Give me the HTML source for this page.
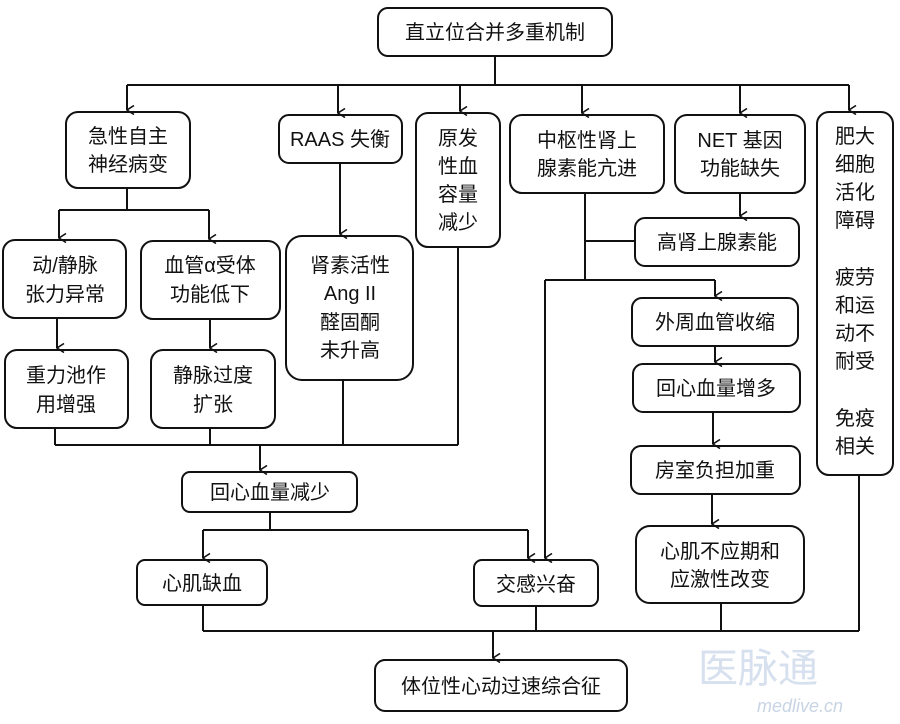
<!DOCTYPE html>
<html><head><meta charset="utf-8"><style>
html,body{margin:0;padding:0;background:#fff;}
svg text{font-family:"Liberation Sans","Noto Sans CJK SC",sans-serif;font-size:20px;fill:#111;text-anchor:middle;}
</style></head><body>
<svg width="900" height="719" viewBox="0 0 900 719" xmlns="http://www.w3.org/2000/svg">
<defs><marker id="a" markerWidth="10" markerHeight="10" refX="5" refY="9" orient="auto" markerUnits="userSpaceOnUse"><path d="M0.5,2 L5,9 L9.5,2" fill="none" stroke="#111" stroke-width="1.6"/></marker></defs>
<g fill="#fff" stroke="#111" stroke-width="2">
<rect x="378" y="8" width="234" height="48" rx="10"/>
<rect x="66" y="112" width="124" height="76" rx="12"/>
<rect x="279" y="115" width="123" height="48" rx="10"/>
<rect x="416" y="113" width="84" height="134" rx="12"/>
<rect x="510" y="115" width="154" height="78" rx="12"/>
<rect x="675" y="115" width="130" height="78" rx="12"/>
<rect x="817" y="112" width="76" height="363" rx="12"/>
<rect x="3" y="240" width="123" height="78" rx="12"/>
<rect x="141" y="241" width="139" height="78" rx="12"/>
<rect x="5" y="350" width="123" height="78" rx="12"/>
<rect x="151" y="350" width="124" height="78" rx="12"/>
<rect x="286" y="236" width="127" height="144" rx="16"/>
<rect x="635" y="218" width="164" height="48" rx="10"/>
<rect x="632" y="298" width="166" height="48" rx="10"/>
<rect x="633" y="364" width="167" height="48" rx="10"/>
<rect x="631" y="446" width="169" height="48" rx="10"/>
<rect x="636" y="526" width="168" height="77" rx="14"/>
<rect x="182" y="472" width="175" height="40" rx="8"/>
<rect x="137" y="560" width="130" height="45" rx="8"/>
<rect x="474" y="560" width="124" height="46" rx="8"/>
<rect x="375" y="660" width="252" height="51" rx="10"/>
</g>
<g fill="none" stroke="#111" stroke-width="2">
<path d="M495 56V85M127 85H849"/>
<path d="M127 85V110" marker-end="url(#a)"/>
<path d="M338 85V113" marker-end="url(#a)"/>
<path d="M460 85V111" marker-end="url(#a)"/>
<path d="M582 85V113" marker-end="url(#a)"/>
<path d="M740 85V113" marker-end="url(#a)"/>
<path d="M849 85V110" marker-end="url(#a)"/>
<path d="M127 188V210M59 210H209"/>
<path d="M59 210V238" marker-end="url(#a)"/>
<path d="M209 210V239" marker-end="url(#a)"/>
<path d="M57 318V348" marker-end="url(#a)"/>
<path d="M210 319V348" marker-end="url(#a)"/>
<path d="M340 163V234" marker-end="url(#a)"/>
<path d="M740 193V216" marker-end="url(#a)"/>
<path d="M585 193V280M585 241H635M545 280H715"/>
<path d="M715 280V296" marker-end="url(#a)"/>
<path d="M545 280V558" marker-end="url(#a)"/>
<path d="M715 346V362" marker-end="url(#a)"/>
<path d="M713 412V444" marker-end="url(#a)"/>
<path d="M712 494V524" marker-end="url(#a)"/>
<path d="M55 428V445M210 428V445M343 380V445M458 247V445M55 445H458"/>
<path d="M260 445V470" marker-end="url(#a)"/>
<path d="M270 512V530M203 530H528"/>
<path d="M203 530V558" marker-end="url(#a)"/>
<path d="M528 530V558" marker-end="url(#a)"/>
<path d="M203 605V631M536 606V631M721 603V631M859 475V631M203 631H859"/>
<path d="M493 631V658" marker-end="url(#a)"/>
</g>
<text x="495" y="39">直立位合并多重机制</text>
<text x="128" y="143">急性自主</text><text x="128" y="171">神经病变</text>
<text x="340" y="146">RAAS 失衡</text>
<text x="458" y="145">原发</text><text x="458" y="173">性血</text><text x="458" y="201">容量</text><text x="458" y="229">减少</text>
<text x="587" y="147">中枢性肾上</text><text x="587" y="175">腺素能亢进</text>
<text x="740" y="147">NET 基因</text><text x="740" y="175">功能缺失</text>
<g><text x="855" y="143">肥大</text><text x="855" y="171">细胞</text><text x="855" y="199">活化</text><text x="855" y="227">障碍</text>
<text x="855" y="284">疲劳</text><text x="855" y="312">和运</text><text x="855" y="340">动不</text><text x="855" y="368">耐受</text>
<text x="855" y="425">免疫</text><text x="855" y="453">相关</text></g>
<text x="65" y="272">动/静脉</text><text x="65" y="301">张力异常</text>
<text x="210" y="272">血管α受体</text><text x="210" y="301">功能低下</text>
<text x="66" y="382">重力池作</text><text x="66" y="411">用增强</text>
<text x="213" y="382">静脉过度</text><text x="213" y="411">扩张</text>
<text x="350" y="272">肾素活性</text><text x="350" y="300">Ang II</text><text x="350" y="329">醛固酮</text><text x="350" y="357">未升高</text>
<text x="717" y="249">高肾上腺素能</text>
<text x="715" y="329">外周血管收缩</text>
<text x="716" y="395">回心血量增多</text>
<text x="715" y="477">房室负担加重</text>
<text x="720" y="558">心肌不应期和</text><text x="720" y="586">应激性改变</text>
<text x="270" y="499">回心血量减少</text>
<text x="202" y="590">心肌缺血</text>
<text x="536" y="591">交感兴奋</text>
<text x="501" y="693">体位性心动过速综合征</text>
<text x="800" y="712" style="font-size:18px;font-style:italic;fill:#c8d4e4">medlive.cn</text>
<text x="758" y="682" style="font-size:40px;fill:#d6e0ee">医脉通</text>
</svg>
</body></html>
